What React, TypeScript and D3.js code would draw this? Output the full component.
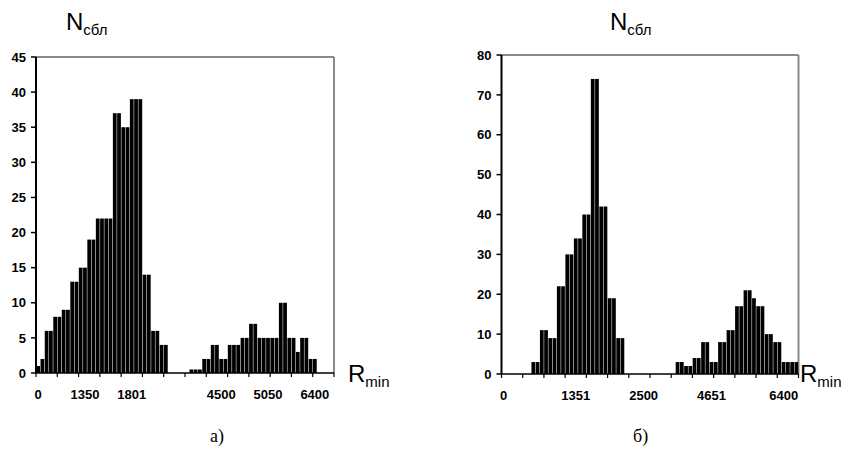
import React from "react";
import * as d3 from "d3";

// histogram a) : counts per category (null = empty cell, not drawn)
const leftValues: (number | null)[] = [
  1, 2, 6, 6, 8, 8, 9, 9, 13, 13,
  15, 15, 19, 19, 22, 22, 22, 22, 37, 37,
  35, 35, 39, 39, 39, 14, 14, 6, 6, 4,
  4, null, null, null, null, null, 0.5, 0.5, 0.5, 2,
  2, 4, 4, 2, 2, 4, 4, 4, 5, 5,
  7, 7, 5, 5, 5, 5, 5, 10, 10, 5,
  5, 3, 5, 5, 2, 2, null, null, null, null,
];
const leftTickLabels = ["0", "1350", "1801", "4500", "5050", "6400"];
const leftTickIndex = [0, 11, 22, 43, 54, 65];

// histogram б)
const rightValues: (number | null)[] = [
  0, 0, 0, 0, 0, 0, 0, 3, 3, 11,
  11, 9, 9, 22, 22, 30, 30, 34, 34, 40,
  40, 74, 74, 42, 42, 19, 19, 9, 9, 0,
  0, 0, 0, 0, 0, 0, 0, 0, 0, 0,
  0, 3, 3, 2, 2, 4, 4, 8, 8, 3,
  3, 8, 8, 11, 11, 17, 17, 21, 21, 19,
  17, 17, 10, 10, 8, 8, 3, 3, 3, 3,
];
const rightTickLabels = ["0", "1351", "2500", "4651", "6400"];
const rightTickIndex = [0, 17, 33, 49, 66];

const FONT = "'Liberation Sans', Arial, sans-serif";

type HistProps = {
  values: (number | null)[];
  labels: string[];
  labelIndex: number[];
  yMax: number;
  yStep: number;
  left: number;
  right: number;
  top: number;
  bottom: number;
  caption: string;
  captionX: number;
};

const Histogram = ({ values, labels, labelIndex, yMax, yStep, left, right, top, bottom, caption, captionX }: HistProps) => {
  const x = d3
    .scaleBand<number>()
    .domain(d3.range(values.length))
    .range([left, right])
    .paddingInner(0)
    .paddingOuter(0);
  const y = d3.scaleLinear().domain([0, yMax]).range([bottom, top]);
  const bw = x.bandwidth();
  const yTicks = d3.range(0, yMax + yStep / 2, yStep);
  const xTicks = d3.range(0, values.length + 1, 5);

  return (
    <g>
      {/* plot area border */}
      <line x1={left} y1={top} x2={right} y2={top} stroke="#8a8a8a" strokeWidth={2} />
      <line x1={right} y1={top} x2={right} y2={bottom} stroke="#8a8a8a" strokeWidth={2} />

      {values.map((v, i) =>
        v == null ? null : (
          <rect
            key={i}
            x={(x(i) as number) + 0.25}
            y={y(v)}
            width={bw - 0.5}
            height={bottom - y(v)}
            fill="#000"
          />
        )
      )}

      {/* y axis */}
      <line x1={left} y1={top} x2={left} y2={bottom} stroke="#000" strokeWidth={2} />
      {yTicks.map((t) => (
        <g key={t}>
          <line x1={left - 5} x2={left} y1={y(t)} y2={y(t)} stroke="#000" strokeWidth={1.5} />
          <text
            x={left - 10}
            y={y(t)}
            dy="0.36em"
            textAnchor="end"
            fontFamily={FONT}
            fontWeight="bold"
            fontSize={13}
          >
            {t}
          </text>
        </g>
      ))}

      {/* x axis */}
      <line x1={left} y1={bottom} x2={right} y2={bottom} stroke="#000" strokeWidth={1.5} />
      {xTicks.map((k) => {
        const px = k < values.length ? (x(k) as number) : right;
        return <line key={k} x1={px} x2={px} y1={bottom} y2={bottom + 4} stroke="#000" strokeWidth={1.2} />;
      })}
      {labels.map((l, i) => (
        <text
          key={l}
          x={(x(labelIndex[i]) as number) + bw / 2}
          y={bottom + 26}
          textAnchor="middle"
          fontFamily={FONT}
          fontWeight="bold"
          fontSize={13}
        >
          {l}
        </text>
      ))}

      <text x={captionX} y={442} fontFamily="'Liberation Serif', 'Times New Roman', serif" fontSize={18}>
        {caption}
      </text>
    </g>
  );
};

const AxisTitle = ({ x, y, main, sub }: { x: number; y: number; main: string; sub: string }) => (
  <text x={x} y={y} fontFamily={FONT} fontSize={24}>
    <tspan>{main}</tspan>
    <tspan fontSize={15} dy={5}>
      {sub}
    </tspan>
  </text>
);

export default function App() {
  return (
    <div style={{ position: "absolute", left: 0, top: 0 }}>
      <svg width={858} height={467} style={{ display: "block", background: "#fff" }}>
        <Histogram
          values={leftValues}
          labels={leftTickLabels}
          labelIndex={leftTickIndex}
          yMax={45}
          yStep={5}
          left={36}
          right={334}
          top={57}
          bottom={373}
          caption="а)"
          captionX={210}
        />
        <Histogram
          values={rightValues}
          labels={rightTickLabels}
          labelIndex={rightTickIndex}
          yMax={80}
          yStep={10}
          left={501.5}
          right={798.5}
          top={55}
          bottom={374}
          caption="б)"
          captionX={633}
        />
        <AxisTitle x={66} y={30} main="N" sub="сбл" />
        <AxisTitle x={610} y={30} main="N" sub="сбл" />
        <AxisTitle x={348} y={382} main="R" sub="min" />
        <AxisTitle x={800} y={382} main="R" sub="min" />
      </svg>
    </div>
  );
}
